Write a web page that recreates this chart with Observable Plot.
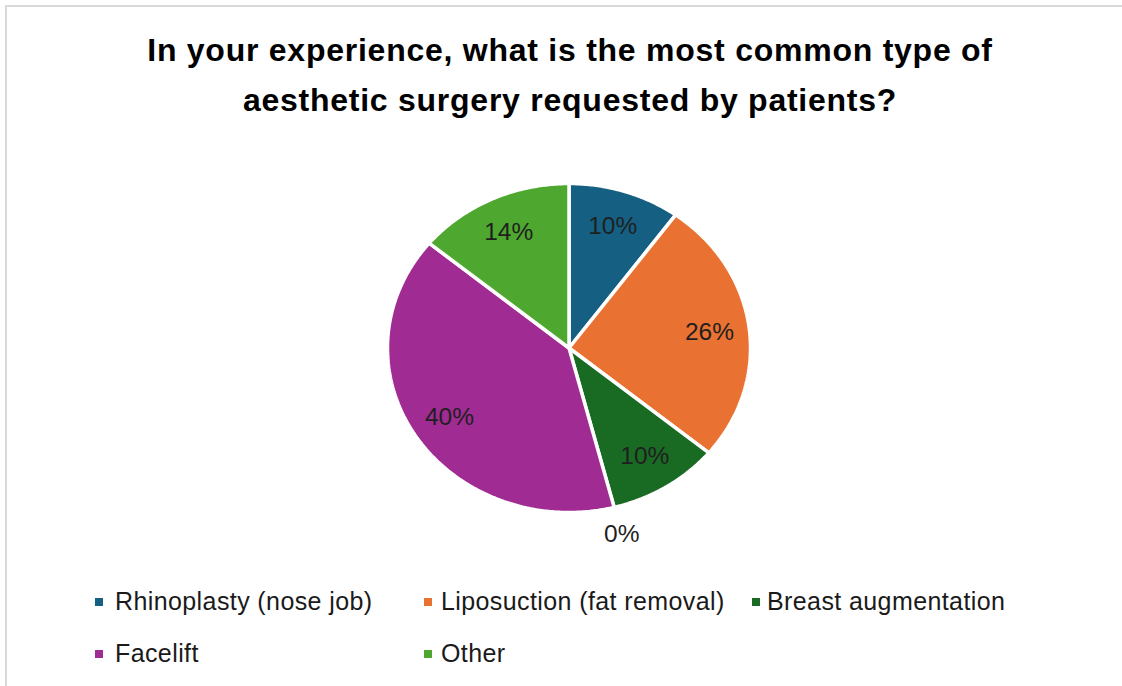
<!DOCTYPE html>
<html>
<head>
<meta charset="utf-8">
<script src="https://cdn.jsdelivr.net/npm/d3@7"></script>
<script src="https://cdn.jsdelivr.net/npm/@observablehq/plot@0.6"></script>
<style>
  html, body { margin: 0; padding: 0; background: #fff; }
  #wrap { position: relative; width: 1122px; height: 686px; overflow: hidden; font-family: "Liberation Sans", Arial, sans-serif; }
  #frame { position: absolute; left: 5px; top: 5px; width: 1130px; height: 700px; border-top: 2px solid #d9d9d9; border-left: 2px solid #d9d9d9; box-sizing: border-box; }
  #title { position: absolute; left: 0; width: 1140px; top: 25px; text-align: center; font-weight: 700; font-size: 32px; letter-spacing: 0.75px; line-height: 50px; color: #000; }
  #chart { position: absolute; left: 0; top: 140px; }
  .leg { position: absolute; font-size: 25px; letter-spacing: 0.4px; color: #1a1a1a; white-space: nowrap; line-height: 28px; }
  .sw { position: absolute; width: 8px; height: 8px; }
</style>
</head>
<body>
<div id="wrap">
  <div id="frame"></div>
  <div id="title"></div>
  <div id="chart"></div>
  <div id="legend"></div>
</div>
<script>
const titleLines = ["In your experience, what is the most common type of", "aesthetic surgery requested by patients?"];
const categories = ["Rhinoplasty (nose job)", "Liposuction (fat removal)", "Breast augmentation", "", "Facelift", "Other"];
const values = [10, 26, 10, 0, 40, 14];
const colors = ["#156082", "#E97132", "#196B24", "#0F9ED5", "#A02B93", "#4EA72E"];
const labels = ["10%", "26%", "10%", "0%", "40%", "14%"];

document.getElementById("title").innerHTML = titleLines.join("<br>");

const data = categories.map((c, i) => ({key: i, name: c, value: values[i], label: labels[i], color: colors[i]}));
const arcs = d3.pie().sort(null).value(d => d.value)(data);

// polygon points of each slice in unit-circle data space (angle 0 = top, clockwise)
const slicePts = [];
for (const a of arcs) {
  if (a.endAngle - a.startAngle <= 0) continue;
  slicePts.push({key: a.data.key, x: 0, y: 0});
  const n = Math.max(2, Math.ceil((a.endAngle - a.startAngle) / 0.01));
  for (let k = 0; k <= n; k++) {
    const t = a.startAngle + (a.endAngle - a.startAngle) * k / n;
    slicePts.push({key: a.data.key, x: Math.sin(t), y: Math.cos(t)});
  }
}
const labelPts = arcs.map(a => {
  const m = (a.startAngle + a.endAngle) / 2;
  const r = a.data.value === 0 ? 1.17 : 0.78;
  return {x: r * Math.sin(m), y: r * Math.cos(m), label: a.data.label};
});

const W = 1122, H = 430, cx = 568.5, cy = 207.5, rx = 181.5, ry = 164.5;
const plot = Plot.plot({
  width: W, height: H,
  margin: 0,
  x: {domain: [-1, 1], range: [cx - rx, cx + rx], axis: null},
  y: {domain: [-1, 1], range: [cy + ry, cy - ry], axis: null},
  color: {domain: data.map(d => d.key), range: colors},
  style: {background: "transparent", fontFamily: "'Liberation Sans', Arial, sans-serif"},
  marks: [
    Plot.line(slicePts, {x: "x", y: "y", z: "key", fill: "key", stroke: "white", strokeWidth: 3.5, strokeLinejoin: "miter", curve: "linear-closed"}),
    Plot.text(labelPts, {x: "x", y: "y", text: "label", fontSize: 24.5, fill: "#1f1f1f"})
  ]
});
document.getElementById("chart").appendChild(plot);

// legend
const legPos = [[95, 115], [424, 441], [752, 767], null, [95, 115], [424, 441]];
const legRow = [0, 0, 0, null, 1, 1];
const leg = document.getElementById("legend");
data.forEach((d, i) => {
  if (!d.name || !legPos[i]) return;
  const [mx, tx] = legPos[i];
  const y = legRow[i] === 0 ? 598 : 650;
  const sw = document.createElement("div");
  sw.className = "sw"; sw.style.left = mx + "px"; sw.style.top = y + "px"; sw.style.background = d.color;
  leg.appendChild(sw);
  const t = document.createElement("div");
  t.className = "leg"; t.style.left = tx + "px"; t.style.top = (y - 11) + "px"; t.textContent = d.name;
  leg.appendChild(t);
});
</script>
</body>
</html>
